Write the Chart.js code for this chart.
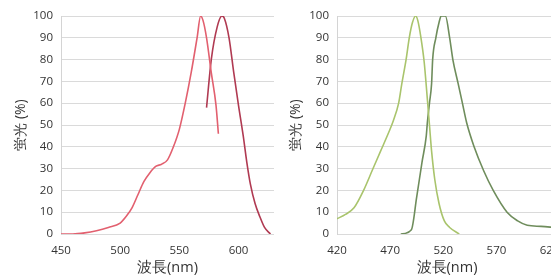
<!DOCTYPE html>
<html>
<head>
<meta charset="utf-8">
<script src="https://cdn.jsdelivr.net/npm/chart.js@4.4.1/dist/chart.umd.min.js"></script>
<style>
  html, body { margin: 0; padding: 0; background: #fff; overflow: hidden; }
  body { width: 551px; height: 277px; position: relative; }
  .box { position: absolute; top: 0; height: 277px; }
  #leftBox { left: 0; width: 280px; }
  #rightBox { left: 275px; width: 292px; }
</style>
</head>
<body>
<div class="box" id="leftBox"><canvas id="redChart"></canvas></div>
<div class="box" id="rightBox"><canvas id="greenChart"></canvas></div>
<script>
// Red dye: excitation / emission spectra (wavelength nm, fluorescence %)
const redExWl  = [450, 460, 470, 480, 490, 500, 505, 510, 515, 520, 525, 530, 535, 540, 545, 550, 555, 560, 565, 568, 570, 573, 577, 581, 583];
const redExVal = [0, 0, 0.5, 1.5, 3, 5, 8, 12, 18, 24, 28, 31, 32, 34, 40, 48, 60, 74, 90, 100, 98, 90, 74, 59, 46];
const redEmWl  = [573, 577, 582, 586, 588, 592, 596, 600, 604, 607, 610, 614, 618, 622, 627];
const redEmVal = [58, 80, 95, 100, 99, 90, 74, 59, 45, 33, 23, 14, 8, 3, 0];
const redXTicks = [450, 500, 550, 600];

// Green dye
const greenExWl  = [420, 428, 436, 445, 453, 461, 469, 473, 478, 481, 485, 488, 491, 494, 496, 499, 502, 505, 507, 509, 512, 516, 521, 526, 535];
const greenExVal = [7, 9, 12, 20, 29, 38, 47, 52, 60, 69, 80, 90, 97, 100, 98, 90, 79, 62, 50, 38, 25, 14, 6, 3, 0];
const greenEmWl  = [480, 490, 495, 500, 504, 505, 507, 509, 510, 513, 516, 518, 522, 526, 529, 534, 538, 542, 549, 558, 567, 580, 590, 599, 612, 625];
const greenEmVal = [0, 2, 17, 33, 45, 51, 60, 69, 80, 90, 97, 100, 100, 90, 80, 69, 60, 51, 40, 29, 20, 10, 6, 4, 3.5, 3];
const greenXTicks = [420, 470, 520, 570, 620];

const yTicks = [0, 10, 20, 30, 40, 50, 60, 70, 80, 90, 100];
const yTitle = '蛍光 (%)';
const xTitle = '波長(nm)';

const font = 'Open Sans';
const pair = (xs, ys) => xs.map((x, i) => ({ x: x, y: ys[i] }));

function spectrumChart(id, exWl, exVal, emWl, emVal, exColor, emColor, xMin, xMax, xTicks, yWidth, padRight) {
  return new Chart(document.getElementById(id).getContext('2d'), {
    type: 'line',
    data: {
      datasets: [
        { label: 'ex', data: pair(exWl, exVal), borderColor: exColor, borderWidth: 1.6,
          pointRadius: 0, cubicInterpolationMode: 'monotone', fill: false },
        { label: 'em', data: pair(emWl, emVal), borderColor: emColor, borderWidth: 1.6,
          pointRadius: 0, cubicInterpolationMode: 'monotone', fill: false }
      ]
    },
    options: {
      responsive: true,
      maintainAspectRatio: false,
      animation: false,
      layout: { padding: { top: 16, right: padRight, bottom: 0, left: 0 } },
      plugins: { legend: { display: false }, tooltip: { enabled: false } },
      scales: {
        x: {
          type: 'linear', min: xMin, max: xMax,
          grid: { display: false },
          border: { display: false },
          afterBuildTicks: s => { s.ticks = xTicks.map(v => ({ value: v })); },
          ticks: { padding: 2, color: '#333', font: { family: font, size: 11.5 }, maxRotation: 0 },
          title: { display: true, text: xTitle, color: '#333', font: { family: font, size: 14.5 }, padding: { top: 0, bottom: 0 } },
          afterFit: s => { s.height = 43; }
        },
        y: {
          min: 0, max: 100,
          afterBuildTicks: s => { s.ticks = yTicks.map(v => ({ value: v })); },
          grid: { color: '#dadada', lineWidth: 1, drawTicks: false },
          border: { display: true, color: '#d4d4d4' },
          ticks: { padding: 8, color: '#333', font: { family: font, size: 11.5 } },
          title: { display: true, text: yTitle, color: '#333', font: { family: font, size: 14 }, padding: { top: 13, bottom: 0 } },
          afterFit: s => { s.width = yWidth; }
        }
      }
    }
  });
}

spectrumChart('redChart', redExWl, redExVal, redEmWl, redEmVal, '#e2606f', '#b03a52', 450, 630, redXTicks, 61, 6);
spectrumChart('greenChart', greenExWl, greenExVal, greenEmWl, greenEmVal, '#a9c46c', '#6f8d5c', 420, 627, greenXTicks, 62, 10);
</script>
</body>
</html>
